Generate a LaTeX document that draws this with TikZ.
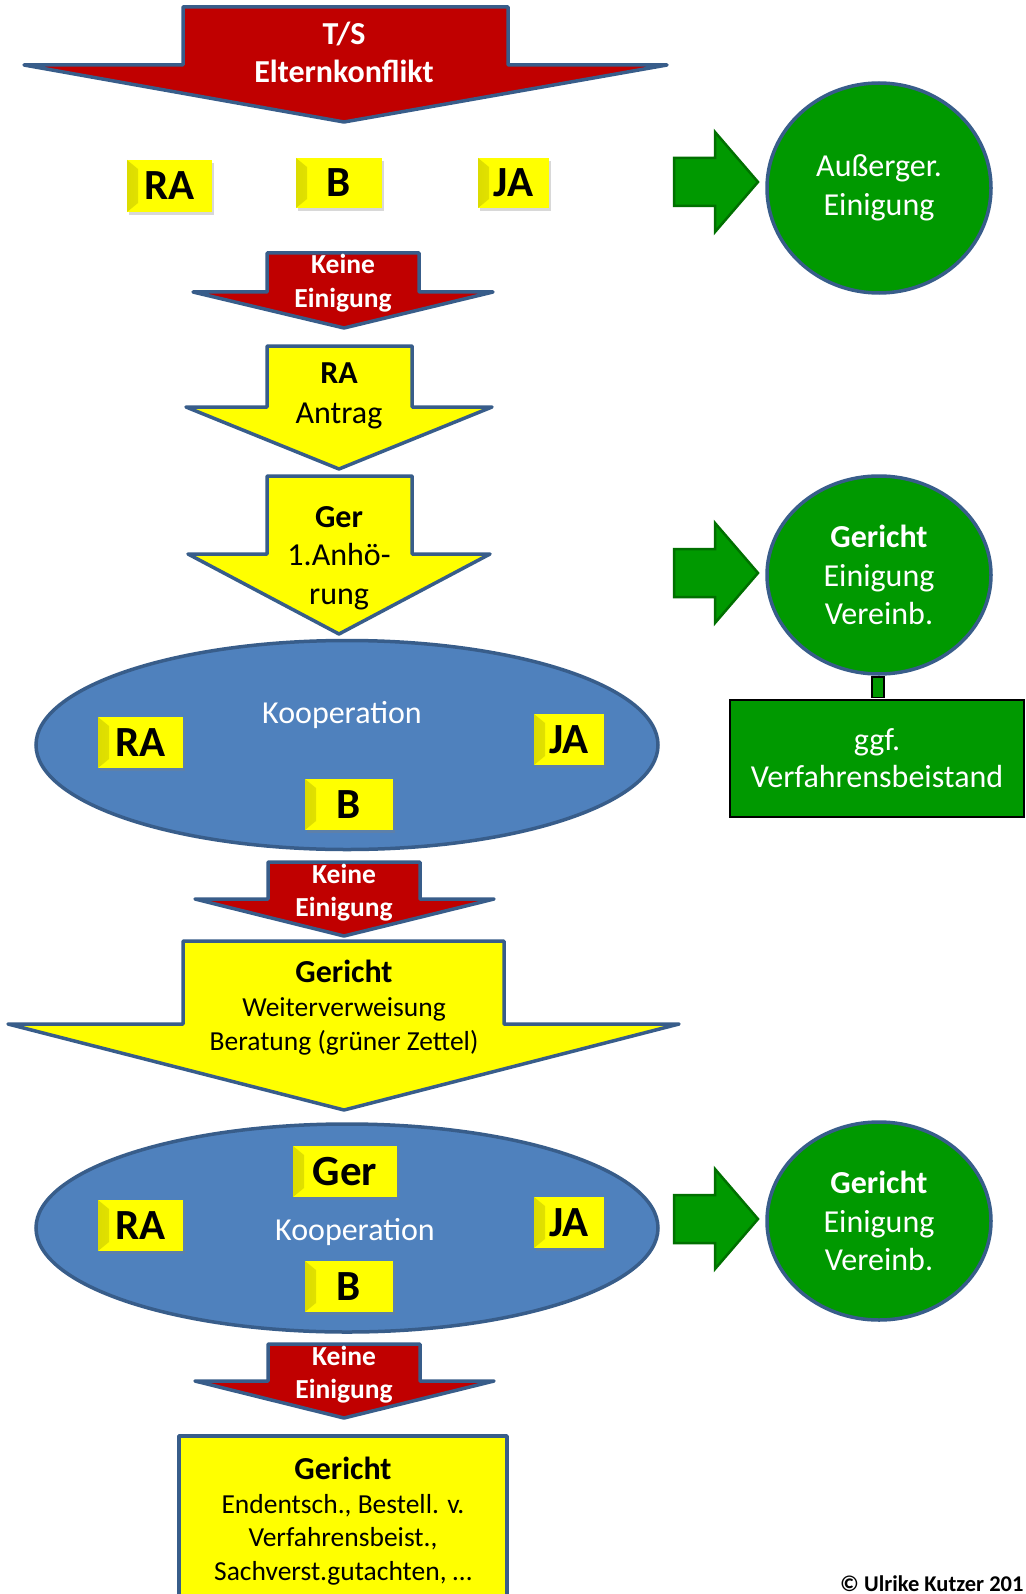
\documentclass[tikz,border=0pt]{standalone}
\usepackage{fontspec}
\setmainfont{Carlito}
\usetikzlibrary{shapes.geometric,shadows}
\definecolor{dred}{HTML}{C00000}
\definecolor{bord}{HTML}{385D8A}
\definecolor{ybox}{HTML}{FFFF00}
\definecolor{ydark}{HTML}{DCDC00}
\definecolor{gfill}{HTML}{009900}
\definecolor{gdark}{HTML}{007000}
\definecolor{bfill}{HTML}{4F81BD}
\tikzset{
  redarrow/.style={fill=dred, draw=bord, line width=3.5pt, line join=round},
  yarrow/.style={fill=ybox, draw=bord, line width=3.5pt, line join=round},
  garrow/.style={fill=gfill, draw=gdark, line width=2.5pt, line join=miter},
  tag/.style={fill=ybox, inner sep=0pt, font=\fontsize{43}{43}\selectfont\bfseries,
    drop shadow={shadow xshift=2pt, shadow yshift=-3pt, opacity=0.3},
    path picture={\shade[left color=ydark, right color=ybox]
      (path picture bounding box.south west) -- (path picture bounding box.north west)
      -- ([xshift=11pt,yshift=-9pt]path picture bounding box.north west)
      -- ([xshift=11pt,yshift=9pt]path picture bounding box.south west) -- cycle;}},
  gcirc/.style={ellipse, fill=gfill, draw=bord, line width=3.5pt, inner sep=0pt,
    text=white, align=center, font=\fontsize{32}{38.5}\selectfont},
  bellipse/.style={ellipse, fill=bfill, draw=bord, line width=3.5pt, inner sep=0pt},
  wtxt/.style={text=white, align=center, inner sep=0pt},
  btxt/.style={text=black, align=center, inner sep=0pt}
}
\newcommand\garr[1]{\draw[garrow] (674,#1-24) -- (715,#1-24) -- (715,#1-50) -- (758,#1) -- (715,#1+50) -- (715,#1+24) -- (674,#1+24) -- cycle;}
\begin{document}
\begin{tikzpicture}[x=1pt,y=-1pt]
\useasboundingbox (0,0) rectangle (1025,1594);
\fill[white] (0,0) rectangle (1025,1594);

% top red arrow
\draw[redarrow] (183,7) -- (508,7) -- (508,65) -- (667,65) -- (344,122) -- (24,65) -- (183,65) -- cycle;
\node[wtxt, font=\fontsize{32}{38}\selectfont\bfseries] (ts) at (344,52) {T/S\\Elternkonflikt};

% row 1 tags
\node[tag, minimum width=85pt, minimum height=52pt] (ra1) at (169.5,186) {RA};
\node[tag, minimum width=86pt, minimum height=50pt] (b1) at (339,183) {B};
\node[tag, minimum width=71pt, minimum height=50pt] (ja1) at (513.5,183) {JA};

% green arrow 1 and circle 1
\garr{182}
\node[gcirc, minimum width=224pt, minimum height=210pt] (c1) at (879,188) {Außerger.\\Einigung};

% keine einigung 1
\draw[redarrow] (267,253) -- (419,253) -- (419,292) -- (493,292) -- (344,328) -- (193,292) -- (267,292) -- cycle;
\node[wtxt, font=\fontsize{27.5}{34}\selectfont\bfseries] (k1) at (343,283) {Keine\\Einigung};

% RA Antrag arrow
\draw[yarrow] (267,346) -- (412,346) -- (412,407) -- (492,407) -- (339,469) -- (186,407) -- (267,407) -- cycle;
\node[btxt, font=\fontsize{32}{40}\selectfont] (ant) at (339,396) {\textbf{RA}\\Antrag};

% Ger 1. Anhoerung arrow
\draw[yarrow] (267,476) -- (412,476) -- (412,554) -- (490,554) -- (339,634) -- (188,554) -- (267,554) -- cycle;
\node[btxt, font=\fontsize{32}{38.5}\selectfont] (anh) at (339,558) {\textbf{Ger}\\1.Anhö-\\rung};

% ellipse 1
\node[bellipse, minimum width=622pt, minimum height=209pt] (e1) at (347,745) {};
\node[wtxt, font=\fontsize{32}{34}\selectfont] (koop1) at (342,715) {Kooperation};
\node[tag, minimum width=85pt, minimum height=51pt] (ra2) at (140.5,742.5) {RA};
\node[tag, minimum width=70pt, minimum height=51pt] (ja2) at (569,739.5) {JA};
\node[tag, minimum width=88pt, minimum height=51pt] (b2) at (349,804.5) {B};

% green arrow 2, circle 2, box
\garr{573}
\node[draw=black, line width=2pt, fill=gfill, minimum width=294pt, minimum height=117pt,
  wtxt, font=\fontsize{32}{37}\selectfont, inner sep=0pt] (vb) at (877,758) {ggf.\\Verfahrensbeistand};
\node[gcirc, minimum width=224pt, minimum height=198pt] (c2) at (879,575) {\textbf{Gericht}\\Einigung\\Vereinb.};
\draw[fill=gfill, draw=black, line width=1.5pt] ([xshift=-7pt,yshift=-1pt]c2.south) rectangle ([xshift=7pt,yshift=1pt]vb.north);

% keine einigung 2
\draw[redarrow] (268,862) -- (420,862) -- (420,899) -- (494,899) -- (344,936) -- (195,899) -- (268,899) -- cycle;
\node[wtxt, font=\fontsize{27.5}{33}\selectfont\bfseries] (k2) at (344,893) {Keine\\Einigung};

% big yellow arrow Gericht
\draw[yarrow] (183,941) -- (504,941) -- (504,1024) -- (679,1024) -- (344,1110) -- (8,1024) -- (183,1024) -- cycle;
\node[btxt, font=\fontsize{27.5}{34}\selectfont] (wv) at (344,1008) {{\fontsize{32}{34}\selectfont\bfseries Gericht}\\Weiterverweisung\\Beratung (grüner Zettel)};

% ellipse 2
\node[bellipse, minimum width=622pt, minimum height=208pt] (e2) at (347,1228) {};
\node[wtxt, font=\fontsize{32}{34}\selectfont] (koop2) at (355,1232) {Kooperation};
\node[tag, minimum width=104pt, minimum height=51pt] (ger3) at (345,1171.5) {Ger};
\node[tag, minimum width=85pt, minimum height=51pt] (ra3) at (140.5,1225.5) {RA};
\node[tag, minimum width=70pt, minimum height=51pt] (ja3) at (569,1222.5) {JA};
\node[tag, minimum width=88pt, minimum height=51pt] (b3) at (349,1286.5) {B};

% green arrow 3 and circle 3
\garr{1219}
\node[gcirc, minimum width=224pt, minimum height=198pt] (c3) at (879,1221) {\textbf{Gericht}\\Einigung\\Vereinb.};

% keine einigung 3
\draw[redarrow] (268,1344) -- (420,1344) -- (420,1381) -- (494,1381) -- (344,1418) -- (195,1381) -- (268,1381) -- cycle;
\node[wtxt, font=\fontsize{27.5}{33}\selectfont\bfseries] (k3) at (344,1375) {Keine\\Einigung};

% final box
\draw[yarrow] (179,1436) rectangle (507,1640);
\node[btxt, font=\fontsize{27.5}{33.5}\selectfont] (fin) at (343,1521) {{\fontsize{32}{34}\selectfont\bfseries Gericht}\\Endentsch., Bestell. v.\\Verfahrensbeist.,\\Sachverst.gutachten, …};

% copyright
\node[anchor=base west, inner sep=0pt, font=\fontsize{22.5}{22.5}\selectfont\bfseries] (copy) at (840,1591) {© Ulrike Kutzer 201};
\end{tikzpicture}
\end{document}
